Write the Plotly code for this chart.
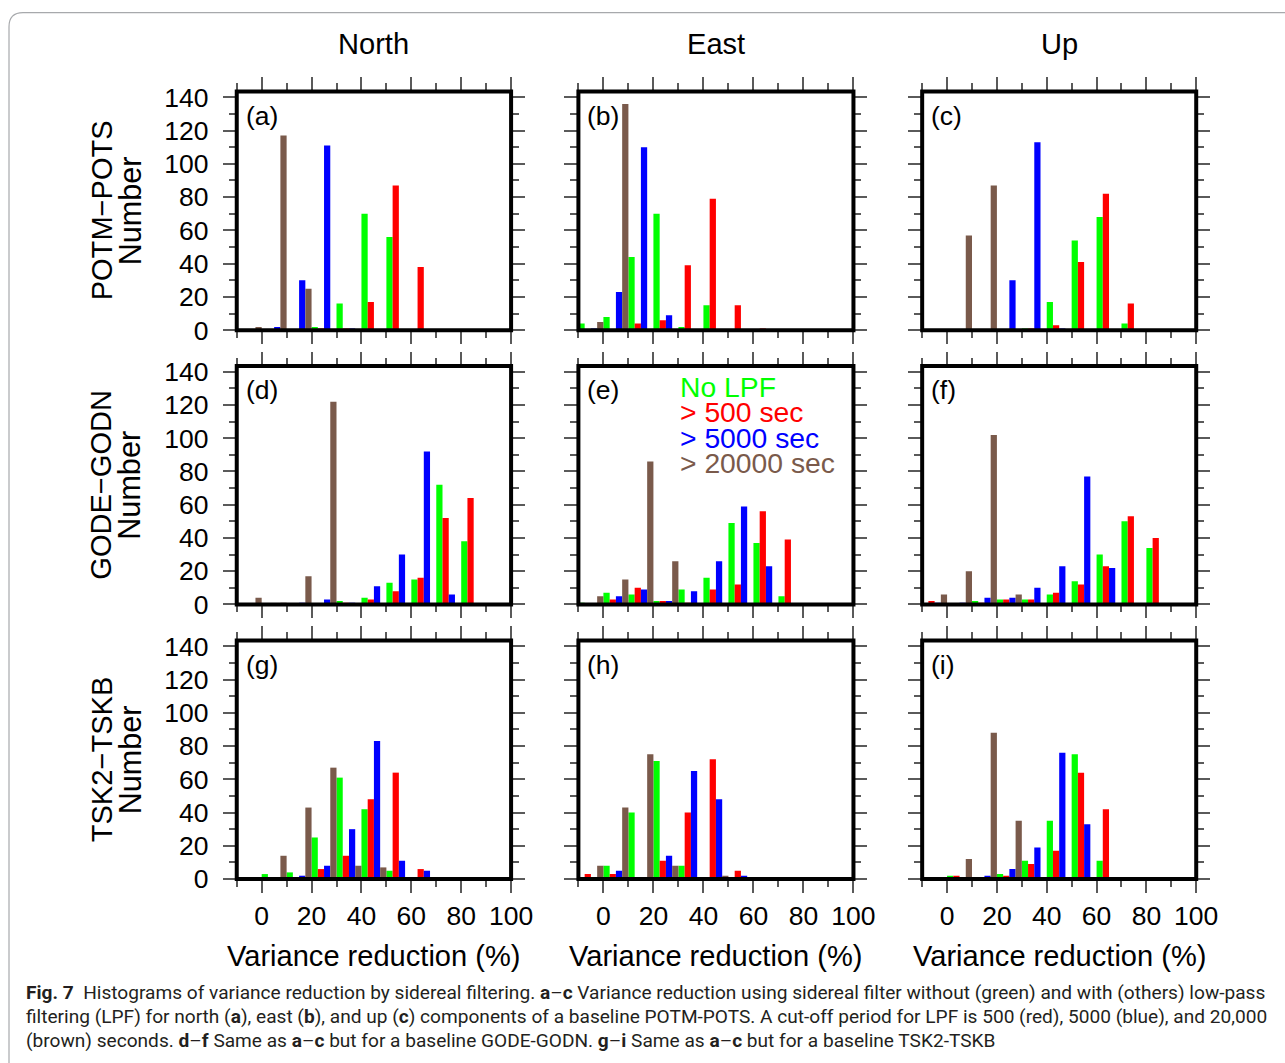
import plotly.graph_objects as go

# ---------------- data ----------------
bin_left = [-10, 0, 10, 20, 30, 40, 50, 60, 70, 80, 90]
series_names = ["No LPF", "> 500 sec", "> 5000 sec", "> 20000 sec"]
series_colors = ["#00ff00", "#ff0000", "#0000ff", "#7a5a4b"]

a_green = [0, 0, 0, 2, 16, 70, 56, 0, 0, 0, 0]
a_red   = [0, 0, 0, 1, 1, 17, 87, 38, 0, 0, 0]
a_blue  = [0, 2, 30, 111, 1, 0, 0, 0, 0, 0, 0]
a_brown = [2, 117, 25, 0, 0, 0, 0, 0, 0, 0, 0]

b_green = [4, 8, 44, 70, 2, 15, 0, 0, 0, 0, 0]
b_red   = [0, 0, 4, 6, 39, 79, 15, 1, 0, 0, 0]
b_blue  = [1, 23, 110, 9, 0, 0, 0, 0, 0, 0, 0]
b_brown = [5, 136, 0, 0, 0, 0, 0, 0, 0, 0, 0]

c_green = [0, 0, 0, 0, 1, 17, 54, 68, 4, 0, 0]
c_red   = [0, 0, 0, 0, 1, 3, 41, 82, 16, 0, 0]
c_blue  = [0, 0, 0, 30, 113, 1, 0, 0, 0, 0, 0]
c_brown = [0, 57, 87, 0, 0, 0, 0, 0, 0, 0, 0]

d_green = [0, 0, 0, 0, 2, 4, 13, 15, 72, 38, 0]
d_red   = [0, 0, 0, 0, 1, 3, 8, 16, 52, 64, 0]
d_blue  = [0, 0, 1, 3, 1, 11, 30, 92, 6, 0, 0]
d_brown = [4, 1, 17, 122, 0, 0, 0, 0, 0, 0, 0]

e_green = [1, 7, 6, 2, 9, 16, 49, 37, 5, 0, 0]
e_red   = [0, 3, 10, 2, 1, 9, 12, 56, 39, 0, 0]
e_blue  = [0, 5, 9, 2, 8, 26, 59, 23, 0, 0, 0]
e_brown = [5, 15, 86, 26, 0, 0, 0, 0, 0, 0, 0]

f_green = [0, 0, 2, 3, 3, 6, 14, 30, 50, 34, 0]
f_red   = [2, 0, 1, 3, 3, 7, 12, 23, 53, 40, 0]
f_blue  = [1, 1, 4, 4, 10, 23, 77, 22, 0, 0, 0]
f_brown = [6, 20, 102, 6, 0, 0, 0, 0, 0, 0, 0]

g_green = [0, 3, 4, 25, 61, 42, 5, 0, 0, 0, 0]
g_red   = [1, 0, 1, 6, 14, 48, 64, 6, 0, 0, 0]
g_blue  = [1, 0, 2, 8, 30, 83, 11, 5, 0, 0, 0]
g_brown = [0, 14, 43, 67, 8, 7, 0, 0, 0, 0, 0]

h_green = [1, 8, 40, 71, 8, 1, 1, 0, 0, 0, 0]
h_red   = [3, 3, 1, 11, 40, 72, 5, 1, 0, 0, 0]
h_blue  = [1, 5, 1, 14, 65, 48, 2, 1, 0, 0, 0]
h_brown = [8, 43, 75, 8, 1, 2, 0, 0, 0, 0, 0]

i_green = [1, 2, 1, 3, 11, 35, 75, 11, 0, 0, 0]
i_red   = [1, 2, 1, 2, 9, 17, 64, 42, 1, 0, 0]
i_blue  = [1, 1, 2, 6, 19, 76, 33, 0, 0, 0, 0]
i_brown = [1, 12, 88, 35, 1, 0, 0, 0, 0, 0, 0]

panels = [
    ("(a)", [a_green, a_red, a_blue, a_brown]),
    ("(b)", [b_green, b_red, b_blue, b_brown]),
    ("(c)", [c_green, c_red, c_blue, c_brown]),
    ("(d)", [d_green, d_red, d_blue, d_brown]),
    ("(e)", [e_green, e_red, e_blue, e_brown]),
    ("(f)", [f_green, f_red, f_blue, f_brown]),
    ("(g)", [g_green, g_red, g_blue, g_brown]),
    ("(h)", [h_green, h_red, h_blue, h_brown]),
    ("(i)", [i_green, i_red, i_blue, i_brown]),
]
col_titles = ["North", "East", "Up"]
row_titles = ["POTM\u2212POTS", "GODE\u2212GODN", "TSK2\u2212TSKB"]
x_title = "Variance reduction (%)"
y_title = "Number"

# ---------------- layout geometry ----------------
W, H = 1285, 1063
# the photographed page comes out slightly scaled; positions below are the
# target pixel positions, converted to figure pixels by these factors
SX, SY, OY = 0.9827, 0.9767, 8.3
FS = 1.02  # font compensation
FONT = "Liberation Sans, Arial, Helvetica, sans-serif"
col_ref = [(236.7, 511.0), (578.3, 853.3), (922.0, 1196.0)]
row_ref = [(90.7, 329.3), (365.0, 603.3), (639.3, 877.7)]
bin_width = 10
bar_w = bin_width / 4


def fx(X):
    return (X / SX) / W


def fy(Y):
    return 1 - ((Y - OY) / SY) / H


fig = go.Figure()
layout = dict(
    width=W, height=H, autosize=False,
    margin=dict(l=0, r=0, t=0, b=0),
    paper_bgcolor="white", plot_bgcolor="white",
    barmode="overlay", showlegend=False,
    font=dict(family=FONT, color="black"),
)
annotations = []
shapes = []
tick_col = "#5a5a5a"

for idx, (label, series) in enumerate(panels):
    r, c = idx // 3, idx % 3
    sfx = "" if idx == 0 else str(idx + 1)
    for k, vals in enumerate(series):
        xs = [b + bar_w * (k + 0.5) for b in bin_left]
        fig.add_trace(go.Bar(
            x=xs, y=vals, width=bar_w,
            marker=dict(color=series_colors[k], line=dict(width=0)),
            name=series_names[k], xaxis="x" + sfx, yaxis="y" + sfx,
            hoverinfo="skip",
        ))
    common = dict(
        showline=False, mirror="ticks",
        ticks="outside", ticklen=13, tickwidth=1.6, tickcolor=tick_col,
        showgrid=False, zeroline=False, fixedrange=True,
        tickfont=dict(family=FONT, size=26.5, color="black"),
    )
    layout["xaxis" + sfx] = dict(
        common, domain=[fx(col_ref[c][0]), fx(col_ref[c][1])],
        anchor="y" + sfx, range=[-10, 100], tick0=0, dtick=20,
        minor=dict(dtick=10, ticks="outside", ticklen=7, tickwidth=1.6, tickcolor=tick_col),
        showticklabels=(r == 2), ticklabelstandoff=0,
    )
    layout["yaxis" + sfx] = dict(
        common, domain=[fy(row_ref[r][1]), fy(row_ref[r][0])],
        anchor="x" + sfx, range=[0, 143.5], tick0=0, dtick=20,
        minor=dict(dtick=10, ticks="outside", ticklen=7, tickwidth=1.6, tickcolor=tick_col),
        showticklabels=(c == 0), ticklabelstandoff=9,
    )
    # thick frame
    shapes.append(dict(type="rect", xref="x" + sfx + " domain", yref="y" + sfx + " domain",
                       x0=0, x1=1, y0=0, y1=1, layer="above",
                       line=dict(color="black", width=4)))
    # panel label
    annotations.append(dict(
        text=label, xref="paper", yref="paper",
        x=fx(col_ref[c][0] + 7), y=fy(row_ref[r][0] + 24.5),
        xanchor="left", yanchor="middle", showarrow=False,
        font=dict(family=FONT, size=26 * FS, color="black"),
    ))

for c in range(3):
    cx = fx((col_ref[c][0] + col_ref[c][1]) / 2)
    annotations.append(dict(text=col_titles[c], xref="paper", yref="paper",
                            x=cx, y=fy(43), xanchor="center", yanchor="middle",
                            showarrow=False, font=dict(family=FONT, size=28.5 * FS)))
    annotations.append(dict(text=x_title, xref="paper", yref="paper",
                            x=cx, y=fy(955), xanchor="center", yanchor="middle",
                            showarrow=False, font=dict(family=FONT, size=28.5 * FS)))

for r in range(3):
    cy = fy((row_ref[r][0] + row_ref[r][1]) / 2)
    annotations.append(dict(text=row_titles[r], xref="paper", yref="paper",
                            x=fx(101.5), y=cy, xanchor="center", yanchor="middle",
                            textangle=-90, showarrow=False, font=dict(family=FONT, size=28.5 * FS)))
    annotations.append(dict(text=y_title, xref="paper", yref="paper",
                            x=fx(129.5), y=cy, xanchor="center", yanchor="middle",
                            textangle=-90, showarrow=False, font=dict(family=FONT, size=30 * FS)))

# legend text inside panel (e)
for k, name in enumerate(series_names):
    annotations.append(dict(text=name, xref="paper", yref="paper",
                            x=fx(678), y=fy(386.5 + 25 * k), xanchor="left", yanchor="middle",
                            showarrow=False,
                            font=dict(family=FONT, size=28.3, color=series_colors[k])))

# caption
CAP_FONT = "Roboto, Liberation Sans, sans-serif"
caption_lines = [
    "<b>Fig. 7</b>  Histograms of variance reduction by sidereal filtering. <b>a</b>\u2013<b>c</b> Variance reduction using sidereal filter without (green) and with (others) low-pass",
    "filtering (LPF) for north (<b>a</b>), east (<b>b</b>), and up (<b>c</b>) components of a baseline POTM-POTS. A cut-off period for LPF is 500 (red), 5000 (blue), and 20,000",
    "(brown) seconds. <b>d</b>\u2013<b>f</b> Same as <b>a</b>\u2013<b>c</b> but for a baseline GODE-GODN. <b>g</b>\u2013<b>i</b> Same as <b>a</b>\u2013<b>c</b> but for a baseline TSK2-TSKB",
]
cap_y = [991, 1015.5, 1039]
for j, line in enumerate(caption_lines):
    annotations.append(dict(text=line, xref="paper", yref="paper",
                            x=fx(24), y=fy(cap_y[j]), xanchor="left", yanchor="middle",
                            showarrow=False, font=dict(family=CAP_FONT, size=19.1, color="#231f20")))

layout["annotations"] = annotations

# light rounded border around the figure
bx, by = fx(9), fy(12)
shapes.append(dict(
    type="path", xref="paper", yref="paper",
    path=f"M {bx} -0.05 L {bx} {fy(26)} Q {bx} {by} {fx(23)} {by} L 1.05 {by}",
    line=dict(color="#a7a9ac", width=1.2),
))
layout["shapes"] = shapes

fig.update_layout(**layout)
fig.write_html("out.html")
